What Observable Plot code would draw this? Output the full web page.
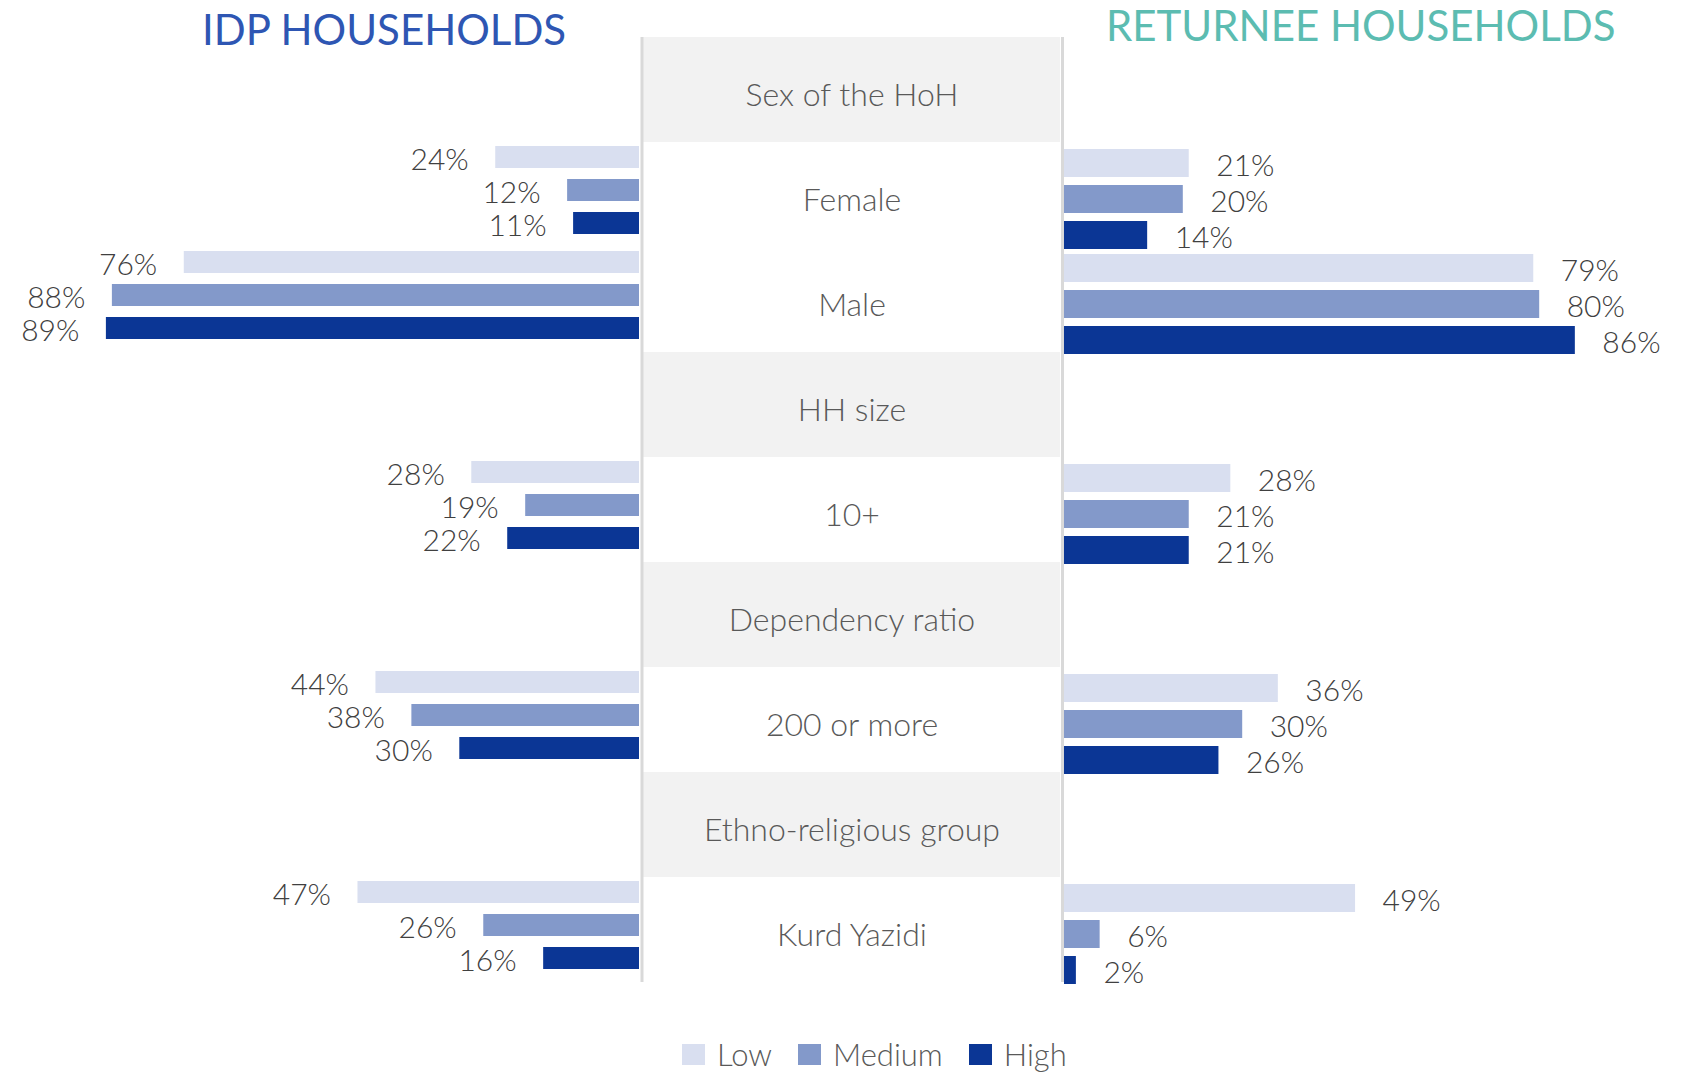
<!DOCTYPE html>
<html>
<head>
<meta charset="utf-8">
<script src="https://cdn.jsdelivr.net/npm/d3@7"></script>
<script src="https://cdn.jsdelivr.net/npm/@observablehq/plot@0.6"></script>
<style>
html, body { margin: 0; padding: 0; background: #fff; }
#root { position: relative; width: 1688px; height: 1075px; overflow: hidden; font-family: Lato, "Noto Sans", sans-serif; }
.panel { position: absolute; top: 0; }
.panel svg { overflow: visible; }
.title { position: absolute; font-size: 42px; line-height: 1.2; white-space: nowrap; font-weight: 400; }
#legend { position: absolute; left: 682px; top: 1039px; display: flex; align-items: center; font-size: 31px; line-height: 1; font-weight: 300; color: #595959; }
#legend .sw { display: inline-block; width: 23px; height: 21px; margin-right: 12px; }
#legend .lab { margin-right: 26px; }
</style>
</head>
<body>
<div id="root">
  <div class="title" id="t-idp" style="left:202px; top:4px; color:#2e56b3;">IDP HOUSEHOLDS</div>
  <div class="title" id="t-ret" style="left:1106px; top:0px; color:#5cbcb1;">RETURNEE HOUSEHOLDS</div>
  <div class="panel" id="left" style="left:0px;"></div>
  <div class="panel" id="center" style="left:639px;"></div>
  <div class="panel" id="right" style="left:1062px;"></div>
  <div id="legend"></div>
</div>
<script>
// ---- data ----
const rows = ["Sex of the HoH", "Female", "Male", "HH size", "10+", "Dependency ratio", "200 or more", "Ethno-religious group", "Kurd Yazidi"];
const headers = ["Sex of the HoH", "HH size", "Dependency ratio", "Ethno-religious group"];
const items = ["Female", "Male", "10+", "200 or more", "Kurd Yazidi"];
const levels = ["Low", "Medium", "High"];
const levelColors = ["#d9dff0", "#8399ca", "#0b3695"];

const idpLow    = [24, 76, 28, 44, 47];
const idpMedium = [12, 88, 19, 38, 26];
const idpHigh   = [11, 89, 22, 30, 16];

const retLow    = [21, 79, 28, 36, 49];
const retMedium = [20, 80, 21, 30, 6];
const retHigh   = [14, 86, 21, 26, 2];

function tidy(low, med, high) {
  const series = [low, med, high];
  return items.flatMap((row, i) => levels.map((level, j) => ({row, level, value: series[j][i]})));
}
const idp = tidy(idpLow, idpMedium, idpHigh);
const ret = tidy(retLow, retMedium, retHigh);

const H = 1000;
const pct = d => d.value + "%";
const labelStyle = {fontSize: 30, fontWeight: 300, fill: "#404040"};
const facetMargins = {marginTop: 0, marginBottom: 0, marginLeft: 0, marginRight: 0};

// ---- left panel (IDP) ----
const leftPlot = Plot.plot({
  width: 641, height: H,
  marginTop: 37, marginBottom: 18, marginLeft: 40, marginRight: 2,
  facet: {data: idp, y: "row", ...facetMargins},
  fy: {domain: rows, padding: 0, axis: null, label: null},
  y: {domain: levels, paddingInner: 0.324, paddingOuter: 0.24, align: 0.22, axis: null, label: null},
  x: {domain: [0, 100], reverse: true, axis: null},
  color: {domain: levels, range: levelColors},
  style: {fontFamily: "Lato, 'Noto Sans', sans-serif", background: "transparent"},
  marks: [
    Plot.barX(idp, {x: "value", y: "level", fill: "level"}),
    Plot.text(idp, {x: "value", y: "level", text: pct, textAnchor: "end", dx: -27, dy: 3, ...labelStyle})
  ]
});
document.getElementById("left").appendChild(leftPlot);

// ---- right panel (Returnee) ----
const rightPlot = Plot.plot({
  width: 626, height: H,
  marginTop: 40, marginBottom: 15, marginLeft: 2, marginRight: 30,
  facet: {data: ret, y: "row", ...facetMargins},
  fy: {domain: rows, padding: 0, axis: null, label: null},
  y: {domain: levels, paddingInner: 0.236, paddingOuter: 0.0715, align: 0.75, axis: null, label: null},
  x: {domain: [0, 100], axis: null},
  color: {domain: levels, range: levelColors},
  style: {fontFamily: "Lato, 'Noto Sans', sans-serif", background: "transparent"},
  marks: [
    Plot.barX(ret, {x: "value", y: "level", fill: "level"}),
    Plot.text(ret, {x: "value", y: "level", text: pct, textAnchor: "start", dx: 27, dy: 3, ...labelStyle})
  ]
});
document.getElementById("right").appendChild(rightPlot);

// ---- center panel (categories) ----
const centerPlot = Plot.plot({
  width: 426, height: H,
  marginTop: 37, marginBottom: 18, marginLeft: 4, marginRight: 5,
  y: {domain: rows, padding: 0, axis: null, label: null},
  x: {domain: [0, 1], axis: null},
  style: {fontFamily: "Lato, 'Noto Sans', sans-serif", background: "transparent"},
  marks: [
    Plot.barX(headers, {y: d => d, x1: 0, x2: 1, fill: "#f2f2f2"}),
    Plot.ruleX([0], {stroke: "#d9d9d9", strokeWidth: 3, dx: -1.5}),
    Plot.ruleX([1], {stroke: "#d9d9d9", strokeWidth: 3, dx: 2}),
    Plot.text(rows, {y: d => d, x: 0.5, text: d => d, dy: 6, fontSize: 32, fontWeight: 300, fill: "#595959"})
  ]
});
document.getElementById("center").appendChild(centerPlot);

// ---- legend ----
const legend = document.getElementById("legend");
levels.forEach((lv, i) => {
  const sw = document.createElement("span");
  sw.className = "sw";
  sw.style.background = levelColors[i];
  const lab = document.createElement("span");
  lab.className = "lab";
  lab.textContent = lv;
  legend.appendChild(sw);
  legend.appendChild(lab);
});
</script>
</body>
</html>
